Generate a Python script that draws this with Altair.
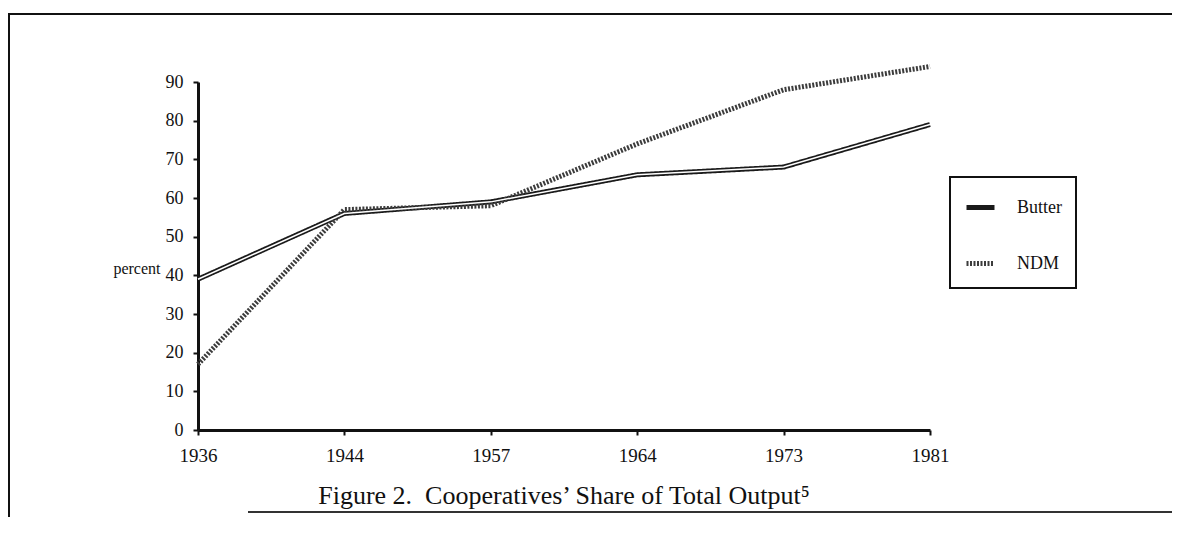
import altair as alt
import pandas as pd

years = ["1936", "1944", "1957", "1964", "1973", "1981"]
butter = [39, 56, 59, 66, 68, 79]
ndm = [17, 57, 58, 74, 88, 94]
series_names = ["Butter", "NDM"]

rows = []
for name, vals in zip(series_names, [butter, ndm]):
    for yr, v in zip(years, vals):
        rows.append({"year": yr, "percent": v, "series": name})
df = pd.DataFrame(rows)

SERIF = "Liberation Serif"

base = alt.Chart(df).encode(
    x=alt.X(
        "year:O",
        sort=years,
        scale=alt.Scale(type="point", padding=0),
        axis=alt.Axis(
            title=None, labelAngle=0, labelFontSize=19, labelPadding=11,
            tickSize=5, tickWidth=2, domainWidth=3,
        ),
    ),
    y=alt.Y(
        "percent:Q",
        scale=alt.Scale(domain=[0, 90], nice=False),
        axis=alt.Axis(
            title="percent", values=list(range(0, 91, 10)), grid=False,
            labelFontSize=18, labelPadding=10, tickSize=5, tickWidth=2,
            domainWidth=3, titleAngle=0, titleAlign="right",
            titleBaseline="middle", titleX=-38, titleY=186,
            titleFontSize=16, titleFontWeight="normal",
        ),
    ),
)

lines = base.mark_line(strokeWidth=5, strokeCap="butt").encode(
    color=alt.Color(
        "series:N",
        scale=alt.Scale(domain=series_names, range=["#1a1a1a", "#3c3c3c"]),
        legend=alt.Legend(title=None),
    ),
    strokeDash=alt.StrokeDash(
        "series:N",
        scale=alt.Scale(domain=series_names, range=[[1, 0], [2, 1.5]]),
        legend=alt.Legend(title=None),
    ),
)

inner = base.transform_filter(alt.datum.series == "Butter").mark_line(
    strokeWidth=1.5, color="white"
)

one = pd.DataFrame({"k": [0]})
frame_top = alt.Chart(one).mark_rule(color="#111", strokeWidth=2).encode(
    x=alt.value(-190), x2=alt.value(974), y=alt.value(-68)
)
frame_left = alt.Chart(one).mark_rule(color="#111", strokeWidth=2).encode(
    x=alt.value(-189), y=alt.value(-68), y2=alt.value(435)
)
frame_bottom = alt.Chart(one).mark_rule(color="#333", strokeWidth=2).encode(
    x=alt.value(50), x2=alt.value(974), y=alt.value(430)
)

chart = (
    alt.layer(lines, inner, frame_top, frame_left, frame_bottom)
    .properties(
        width=732,
        height=348,
        autosize=alt.AutoSizeParams(type="none"),
        padding={"left": 190, "top": 74, "right": 242, "bottom": 95},
        title=alt.TitleParams(
            text="Figure 2.\u00a0 Cooperatives\u2019 Share of Total Output\u2075",
            orient="bottom", anchor="middle", fontSize=26, font=SERIF,
            fontWeight="normal", color="#111", offset=-35,
        ),
    )
    .configure_view(stroke=None)
    .configure_axis(
        labelFont=SERIF, titleFont=SERIF, domainColor="#111",
        tickColor="#111", labelColor="#111", titleColor="#111",
    )
    .configure_legend(
        orient="none", legendX=752, legendY=95, strokeColor="#111",
        strokeWidth=2, padding=14, rowPadding=29, labelOffset=20,
        symbolType="stroke", symbolSize=784, symbolStrokeWidth=5,
        labelFont=SERIF, labelFontSize=18, labelColor="#111",
        fillColor="white",
    )
)

chart.save("out.html", embed_options={"renderer": "svg", "actions": False})
